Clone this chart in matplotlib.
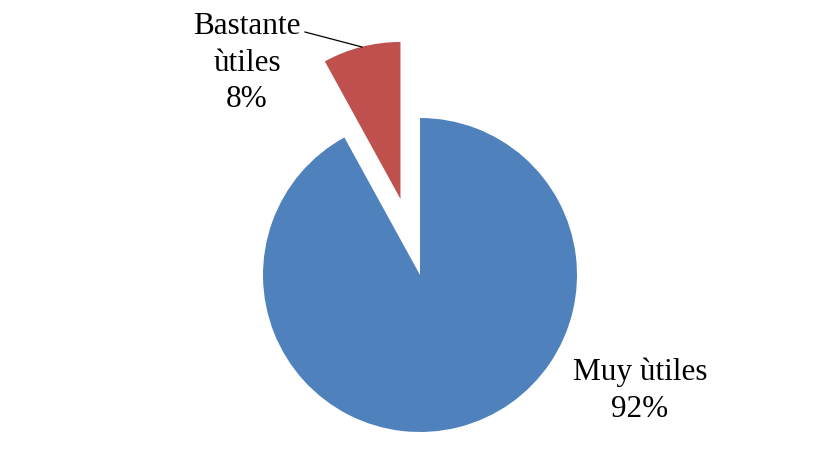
import matplotlib.pyplot as plt

# ── Data ──────────────────────────────────────────────────────────────────────
labels = ["Muy ùtiles", "Bastante\nùtiles"]
shares = [92, 8]
colors = ["#4F81BD", "#C0504D"]

W, H = 821, 474

fig = plt.figure(figsize=(W / 100, H / 100), dpi=100)
ax = fig.add_axes([0, 0, 1, 1])

cx, cy, r = 420, H - 275, 157
# explode offset is in data units here, so scale by radius
explode = [0, 0.5 * r]
ax.pie(shares, colors=colors, explode=explode, startangle=90,
       counterclock=False, center=(cx, cy), radius=r,
       wedgeprops=dict(linewidth=0), frame=True)
ax.set_xlim(0, W)
ax.set_ylim(0, H)
ax.set_aspect("equal")
ax.axis("off")

font = dict(family="Liberation Serif", fontsize=22.5, ha="center", va="center",
            linespacing=1.36)
ax.text(247, H - 63, f"{labels[1]}\n{shares[1]}%", **font)
ax.text(640, H - 391, f"{labels[0]}\n{shares[0]}%", **font)
ax.plot([305, 362], [H - 32, H - 47], color="black", lw=0.9)

fig.savefig("out.png", dpi=100)
